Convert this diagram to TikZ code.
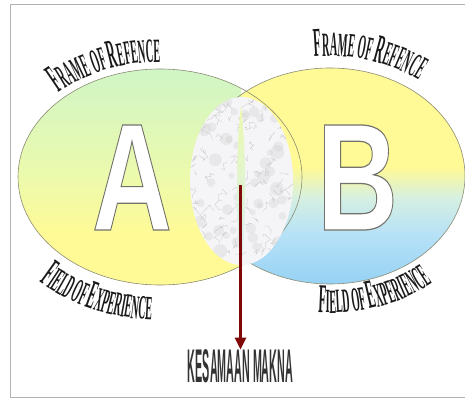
\documentclass[tikz,border=0pt]{standalone}
\usepackage{fontspec}
\usetikzlibrary{arrows.meta, decorations.text, positioning}

\newfontfamily\condfont[FakeStretch=0.3, BoldFeatures={FakeStretch=0.3}]{Liberation Serif}
\newfontfamily\letterfont{Liberation Sans}
\newfontfamily\heavyfont[FakeStretch=0.5, BoldFeatures={FakeStretch=0.5}]{Liberation Sans}
\newcommand\capbig{\condfont\bfseries\fontsize{41}{41}\selectfont}
\newcommand\capsmall{\condfont\bfseries\fontsize{34}{34}\selectfont}
% hollow letter: white fill, grey stroke
\newcommand\hollow[1]{{\color{white}\special{pdf:literal direct 2 Tr 0.8 w 0.45 0.45 0.42 RG}#1\special{pdf:literal direct 0 Tr}}}

\definecolor{greenA}{RGB}{208,245,198}
\definecolor{limeA}{RGB}{236,250,172}
\definecolor{yellowA}{RGB}{255,250,150}
\definecolor{yellowB}{RGB}{255,249,150}
\definecolor{paleB}{RGB}{214,240,225}
\definecolor{cyanB}{RGB}{184,226,246}
\definecolor{blueB}{RGB}{150,210,245}
\definecolor{rimgray}{RGB}{140,140,115}
\definecolor{arrowred}{RGB}{128,8,8}
\definecolor{marble}{RGB}{245,245,248}

\pgfdeclareverticalshading{shadeA}{100bp}{color(0bp)=(yellowA); color(25bp)=(yellowA); color(37bp)=(yellowA); color(50bp)=(limeA); color(75bp)=(greenA); color(100bp)=(greenA)}
\pgfdeclareverticalshading{shadeB}{100bp}{color(0bp)=(blueB); color(25bp)=(blueB); color(37bp)=(cyanB); color(45bp)=(paleB); color(52bp)=(yellowB); color(75bp)=(yellowB); color(100bp)=(yellowB)}

\begin{document}
\begin{tikzpicture}[x=1pt, y=1pt,
    rim/.style={draw=rimgray, line width=0.6pt},
    bigletter/.style={inner sep=0pt, font=\letterfont\bfseries\fontsize{100}{100}\selectfont},
    curvetext/.style={decorate, decoration={text along path, text align=center, text color=black!90}},
    vein/.style={gray!45, line width=0.3pt},
    meaning/.style={-{Triangle[width=11pt,length=12pt]}, arrowred, line width=2.8pt}]

    \useasboundingbox (0,0) rectangle (465,399);
    \draw[gray!60, line width=1pt] (10,2) rectangle (475,394);

    \coordinate (cA) at (160,222);
    \coordinate (cB) at (330,223);
    \coordinate (cM) at (241.5,218);

    % the two fields
    \shade[shading=shadeB] (cB) ellipse [x radius=135, y radius=108];
    \begin{scope}
        \clip (0,0) rectangle (241,399);
        \shade[shading=shadeA] (cA) ellipse [x radius=142, y radius=108];
    \end{scope}
    \draw[rim] (cA) ellipse [x radius=142, y radius=108];
    \draw[rim] (cB) ellipse [x radius=135, y radius=108];

    % common part
    \fill[marble] (cM) ellipse [x radius=51.5, y radius=84];
    \begin{scope}
        \clip (cM) ellipse [x radius=51.5, y radius=84];
        \pgfmathsetseed{11}
        \foreach \i in {1,...,50}
            \fill[gray!40, opacity=0.3] (241.5+45*rand, 218+80*rand) circle [radius=3+4*rnd];
        \foreach \i in {1,...,110}
            \draw[vein] (241.5+50*rand, 218+84*rand) -- ++(6*rand,6*rand) -- ++(6*rand,6*rand) -- ++(6*rand,6*rand);
    \end{scope}
    \shade[top color=limeA, middle color=yellowA!60, bottom color=cyanB!60] (241,294) .. controls (247,240) and (246,170) .. (241,131) .. controls (236,170) and (235,240) .. (241,294);

    \node[bigletter] (letA) at (132,221.5) {\resizebox{80pt}{105pt}{\hollow{A}}};
    \node[bigletter] (letB) at (357.5,221.5) {\resizebox{81pt}{105pt}{\hollow{B}}};

    % curved labels
    \path[curvetext, decoration={text={|\capbig|F|\capsmall|RAME OF |\capbig|R|\capsmall|EFENCE}}]
        ([shift={(150:149 and 115)}]cA) arc [start angle=150, end angle=75, x radius=149, y radius=115];
    \path[curvetext, decoration={text={|\capbig|F|\capsmall|RAME OF |\capbig|R|\capsmall|EFENCE}}]
        ([shift={(115:147 and 120)}]cB) arc [start angle=115, end angle=32, x radius=147, y radius=120];
    \path[curvetext, decoration={text={|\capbig|F|\capsmall|IELD OF |\capbig|E|\capsmall|XPERIENCE}}]
        ([shift={(206:177 and 143)}]cA) arc [start angle=206, end angle=286, x radius=177, y radius=143];
    \path[curvetext, decoration={text={|\capbig|F|\capsmall|IELD OF |\capbig|E|\capsmall|XPERIENCE}}]
        ([shift={(248:164 and 137)}]cB) arc [start angle=248, end angle=328, x radius=164, y radius=137];

    \node[inner sep=0pt, text=black!80] (kesamaan) at (240.5,32.5) {\resizebox{105pt}{33pt}{\heavyfont\bfseries KESAMAAN MAKNA}};
    \coordinate (meanstart) at (240.5,214);
    \draw[meaning] (meanstart) -- (kesamaan.north);
\end{tikzpicture}
\end{document}
